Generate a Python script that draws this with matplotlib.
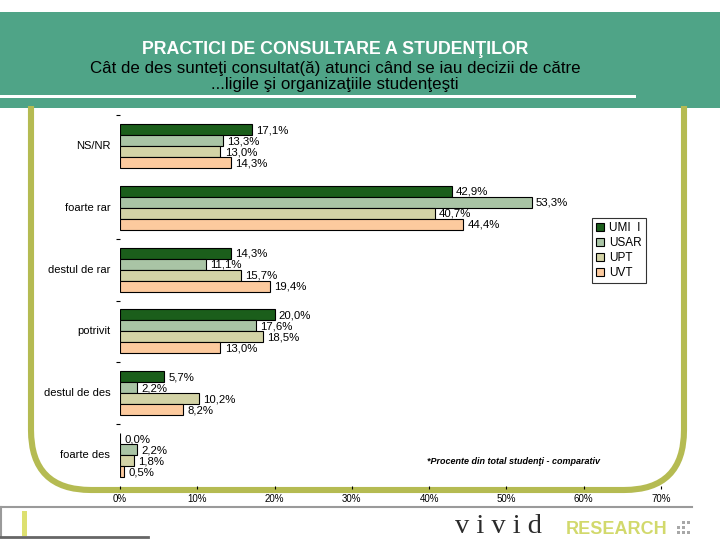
import matplotlib
matplotlib.use("Agg")
import matplotlib.pyplot as plt
import numpy as np
from matplotlib.path import Path
from matplotlib.patches import PathPatch, Rectangle

plt.rcParams['font.family'] = ['Liberation Sans', 'DejaVu Sans']

categories = ["NS/NR", "foarte rar", "destul de rar", "potrivit", "destul de des", "foarte des"]
series_names = ["UMI  I", "USAR", "UPT", "UVT"]
umi = [17.1, 42.9, 14.3, 20.0, 5.7, 0.0]
usar = [13.3, 53.3, 11.1, 17.6, 2.2, 2.2]
upt = [13.0, 40.7, 15.7, 18.5, 10.2, 1.8]
uvt = [14.3, 44.4, 19.4, 13.0, 8.2, 0.5]
series = [umi, usar, upt, uvt]
colors = ["#1b5e1b", "#a9c4a5", "#d3d3a6", "#fcca9e"]
xticks = [0, 10, 20, 30, 40, 50, 60, 70]

fig = plt.figure(figsize=(7.2, 5.4), dpi=100)

# overlay for decorations in pixel coordinates
ov = fig.add_axes([0, 0, 1, 1], zorder=0)
ov.set_xlim(0, 720)
ov.set_ylim(540, 0)
ov.axis('off')

# header band
ov.add_patch(Rectangle((0, 12), 720, 96, color="#4fa487", lw=0))
ov.add_patch(Rectangle((0, 94.5), 636, 3, color="white", lw=0))
ov.text(335, 49, "PRACTICI DE CONSULTARE A STUDENŢILOR", color="white",
        fontsize=12.8, fontweight="bold", ha="center", va="center")
ov.text(335, 68, "Cât de des sunteţi consultat(ă) atunci când se iau decizii de către",
        color="black", fontsize=12.2, ha="center", va="center")
ov.text(335, 85, "...ligile şi organizaţiile studenţeşti",
        color="black", fontsize=12.2, ha="center", va="center")

# olive frame
fc = "#b5bb52"
verts = [(31, 106), (31, 430), (31, 490), (91, 490), (624, 490), (684, 490), (684, 430), (684, 106)]
codes = [Path.MOVETO, Path.LINETO, Path.CURVE3, Path.CURVE3, Path.LINETO, Path.CURVE3, Path.CURVE3, Path.LINETO]
ov.add_patch(PathPatch(Path(verts, codes), fill=False, edgecolor=fc, lw=4.4, capstyle='butt'))

# footnote
ov.text(427, 461, "*Procente din total studenţi - comparativ", fontsize=6.5,
        fontweight="bold", fontstyle="italic", ha="left", va="center", color="black")

# bottom decorations
ov.plot([0, 692], [507, 507], color="#9a9a9a", lw=1.5)
ov.plot([1, 1], [507, 537], color="#9a9a9a", lw=1.5)
ov.plot([0, 148], [537, 537], color="#666666", lw=2)
ov.add_patch(Rectangle((22, 511), 5, 25, color="#dde070", lw=0))
ov.text(455, 533, "v i v i d", family="Liberation Serif", fontsize=20.5,
        color="#2b2b2b", ha="left", va="baseline")
ov.text(566, 534, "RESEARCH", fontsize=13, fontweight="bold",
        color="#d2d96c", ha="left", va="baseline")
for r, row in enumerate([[0, 1, 1], [1, 1, 0], [1, 1, 1]]):
    for c, v in enumerate(row):
        if v:
            ov.add_patch(Rectangle((677 + c * 5, 521 + r * 5), 3, 3, color="#a8a8a8", lw=0))

# main chart
ax = fig.add_axes([120 / 720, 1 - 486 / 540, 541 / 720, 371 / 540], zorder=2)
ax.patch.set_alpha(0)
y = np.arange(len(categories))
h = 0.178
offs = [-1.5 * h, -0.5 * h, 0.5 * h, 1.5 * h]
for vals, col, off, name in zip(series, colors, offs, series_names):
    ax.barh(y + off, vals, height=h, color=col, edgecolor="black", lw=0.8, label=name)
    for yy, v in zip(y + off, vals):
        ax.annotate(f"{v:.1f}%".replace(".", ","), (v, yy), xytext=(3, -0.5),
                    textcoords="offset points", ha="left", va="center", fontsize=8.2)

ax.set_xlim(0, 70)
ax.set_ylim(5.5, -0.5)
ax.set_xticks(xticks)
ax.set_xticklabels([f"{t}%" for t in xticks], fontsize=7)
ax.tick_params(axis='x', length=2.5, width=0.8, pad=3, direction='out')
ax.set_yticks([-0.5, 1.5, 2.5, 3.5, 4.5])
ax.set_yticklabels([])
ax.tick_params(axis='y', length=3, width=0.8, direction='out')
for i, c in enumerate(categories):
    ax.annotate(c, (0, i), xytext=(-7, 0), textcoords="offset points",
                ha="right", va="center", fontsize=8)
for s in ax.spines.values():
    s.set_visible(False)

leg = ax.legend(loc="upper left", bbox_to_anchor=(592 / 720, 1 - 218 / 540),
                bbox_transform=fig.transFigure, frameon=True, fancybox=False,
                fontsize=8.5, handlelength=0.7, handleheight=0.7, handletextpad=0.4,
                borderpad=0.35, labelspacing=0.25, borderaxespad=0)
leg.get_frame().set_edgecolor("black")
leg.get_frame().set_linewidth(0.8)

fig.savefig("out.png", dpi=100)
